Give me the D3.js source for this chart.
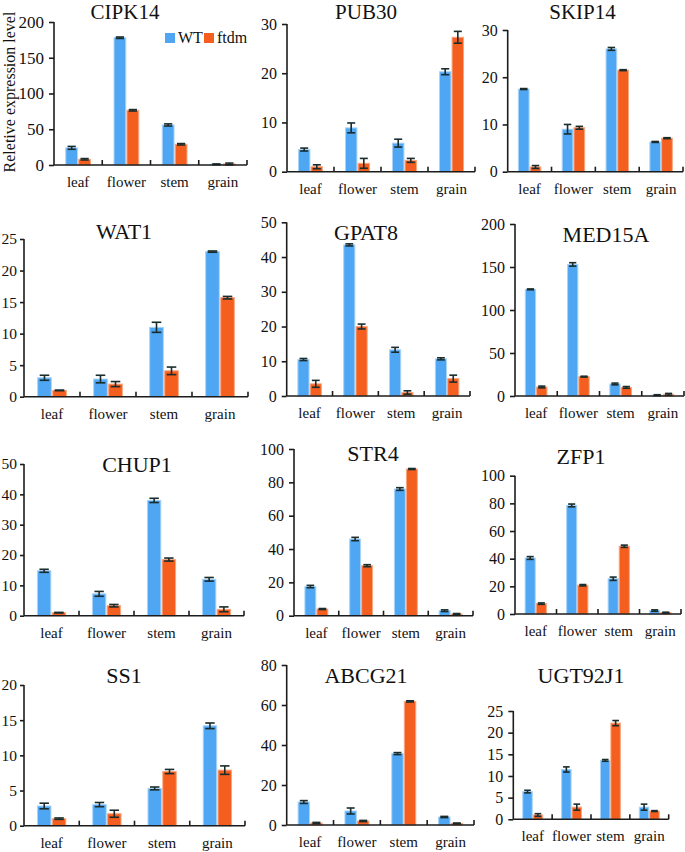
<!DOCTYPE html>
<html>
<head>
<meta charset="utf-8">
<script src="https://cdn.jsdelivr.net/npm/d3@7"></script>
<style>
  body { margin: 0; background: #fff; }
</style>
</head>
<body>
<script>
// tissues on the x axis, one gene per panel
var tissues = ["leaf", "flower", "stem", "grain"];
var genes = ["CIPK14", "PUB30", "SKIP14", "WAT1", "GPAT8", "MED15A",
    "CHUP1", "STR4", "ZFP1", "SS1", "ABCG21", "UGT92J1"];
var seriesNames = ["WT", "ftdm"];

var yMax = [200, 30, 30, 25, 50, 200, 50, 100, 100, 20, 80, 25];
var yStep = [50, 10, 10, 5, 10, 50, 10, 20, 20, 5, 20, 5];

var wtMean = [
    [24, 178, 56, 1],
    [4.5, 8.9, 5.8, 20.3],
    [17.5, 9, 26, 6.3],
    [3, 2.8, 11, 23],
    [10.5, 43.5, 13.3, 10.7],
    [124, 153, 14, 1],
    [14.8, 7.2, 38, 12],
    [17.5, 46, 76, 3],
    [40.5, 78.5, 25.5, 2.5],
    [2.8, 3, 5.3, 14.2],
    [11.5, 7, 35.7, 4],
    [6.4, 11.5, 13.6, 2.8]
];
var wtErr = [
    [2, 1, 1.5, 0.5],
    [0.3, 1, 0.8, 0.6],
    [0.1, 1, 0.3, 0.1],
    [0.4, 0.6, 0.8, 0.1],
    [0.3, 0.3, 0.7, 0.3],
    [0.5, 2, 1, 0.5],
    [0.5, 0.8, 0.7, 0.6],
    [0.7, 1, 0.8, 0.5],
    [1, 1, 1.2, 0.5],
    [0.4, 0.3, 0.2, 0.4],
    [0.7, 1.5, 0.5, 0.3],
    [0.3, 0.6, 0.2, 0.7]
];
var ftdmMean = [
    [8, 76.5, 29, 1.5],
    [1, 1.7, 2.3, 27.3],
    [1, 9.3, 21.5, 7.1],
    [1, 2, 4.1, 15.7],
    [3.5, 20, 1, 5],
    [10.5, 22.5, 10, 2],
    [1, 3.3, 18.5, 2.1],
    [4, 30, 88, 1],
    [7.5, 20.8, 49, 1],
    [1, 1.7, 7.7, 7.9],
    [1, 2, 61.8, 0.8],
    [1, 2.8, 22.2, 1.9]
];
var ftdmErr = [
    [1, 1, 1, 1.2],
    [0.4, 1, 0.4, 1.2],
    [0.3, 0.3, 0.1, 0.1],
    [0.05, 0.4, 0.6, 0.2],
    [1, 0.7, 0.5, 1],
    [1, 0.5, 1, 1],
    [0.1, 0.4, 0.5, 0.8],
    [0.3, 0.6, 0.3, 0.3],
    [0.5, 0.5, 0.8, 0.3],
    [0.1, 0.5, 0.3, 0.6],
    [0.3, 0.3, 0.3, 0.2],
    [0.3, 0.7, 0.6, 0.1]
];

// where each panel sits: axis left/right, top of y range, zero line, title x/y
var frames = [
    {x0: 54, x1: 247, top: 22, y0: 165, tx: 125, ty: 19},
    {x0: 287, x1: 475, top: 24, y0: 171.7, tx: 366, ty: 19},
    {x0: 507.7, x1: 683, top: 30, y0: 171.7, tx: 582.5, ty: 19},
    {x0: 24, x1: 248, top: 239, y0: 396.7, tx: 124, ty: 239},
    {x0: 286.7, x1: 470, top: 222.3, y0: 396, tx: 366, ty: 240},
    {x0: 515, x1: 684, top: 224, y0: 396, tx: 606, ty: 241.5},
    {x0: 24, x1: 244, top: 464, y0: 615.7, tx: 137, ty: 472},
    {x0: 294, x1: 473, top: 449, y0: 615.7, tx: 373, ty: 461},
    {x0: 515, x1: 681, top: 475.7, y0: 614, tx: 581, ty: 464},
    {x0: 24, x1: 245, top: 685, y0: 825.7, tx: 124, ty: 683},
    {x0: 286.7, x1: 474, top: 665, y0: 825, tx: 366, ty: 683},
    {x0: 513.3, x1: 668.7, top: 711, y0: 819.3, tx: 581, ty: 683}
];

var font = "'Liberation Serif', 'Times New Roman', serif";
var colors = {WT: "#4fa7f4", ftdm: "#f45e1f"};
var edges = {WT: "#a9d4fa", ftdm: "#f9a67f"};
var axisColor = "#1c1c1c";
var errColor = "#1a2c2c";

var svg = d3.select("body").append("svg")
    .attr("width", 685)
    .attr("height", 852)
    .style("font-family", font);

genes.forEach(function (gene, i) {
    var f = frames[i];
    var g = svg.append("g");
    var tight = f.x0 < 30; // left column: tick labels hug the page edge

    var x = d3.scaleBand().domain(tissues).range([f.x0, f.x1]).padding(0);
    var y = d3.scaleLinear().domain([0, yMax[i]]).range([f.y0, f.top]);
    var inner = d3.scaleBand().domain(seriesNames)
        .range([0, x.bandwidth()]).paddingInner(0.2 / 2.2).paddingOuter(1 / 1.1);

    var rows = [];
    tissues.forEach(function (t, j) {
        rows.push({t: t, s: "WT", v: wtMean[i][j], e: wtErr[i][j]});
        rows.push({t: t, s: "ftdm", v: ftdmMean[i][j], e: ftdmErr[i][j]});
    });

    g.selectAll("rect.bar")
        .data(rows)
        .enter()
        .append("rect")
        .attr("class", "bar")
        .attr("x", function (d) { return x(d.t) + inner(d.s); })
        .attr("y", function (d) { return y(d.v); })
        .attr("width", inner.bandwidth())
        .attr("height", function (d) { return f.y0 - y(d.v); })
        .attr("fill", function (d) { return colors[d.s]; })
        .attr("stroke", function (d) { return edges[d.s]; })
        .attr("stroke-width", 1);

    // error bars
    var cap = inner.bandwidth() * 0.35;
    var eb = g.selectAll("g.err")
        .data(rows)
        .enter()
        .append("g")
        .attr("class", "err")
        .attr("stroke", errColor)
        .attr("stroke-width", 1.6);
    eb.append("line")
        .attr("x1", function (d) { return x(d.t) + inner(d.s) + inner.bandwidth() / 2; })
        .attr("x2", function (d) { return x(d.t) + inner(d.s) + inner.bandwidth() / 2; })
        .attr("y1", function (d) { return y(Math.max(0, d.v - d.e)); })
        .attr("y2", function (d) { return y(d.v + d.e); });
    [-1, 1].forEach(function (k) {
        eb.append("line")
            .attr("x1", function (d) { return x(d.t) + inner(d.s) + inner.bandwidth() / 2 - cap; })
            .attr("x2", function (d) { return x(d.t) + inner(d.s) + inner.bandwidth() / 2 + cap; })
            .attr("y1", function (d) { return y(k > 0 ? d.v + d.e : Math.max(0, d.v - d.e)); })
            .attr("y2", function (d) { return y(k > 0 ? d.v + d.e : Math.max(0, d.v - d.e)); });
    });

    // y axis
    var yAxis = d3.axisLeft(y)
        .tickValues(d3.range(0, yMax[i] + yStep[i] / 2, yStep[i]))
        .tickSize(tight ? 4 : 5)
        .tickPadding(tight ? 3 : 5)
        .tickFormat(d3.format("d"));
    var ya = g.append("g")
        .attr("transform", "translate(" + f.x0 + ",0)")
        .call(yAxis);
    ya.select(".domain").attr("stroke", axisColor).attr("stroke-width", 1.6)
        .attr("d", "M0," + f.y0 + "V" + f.top);
    ya.selectAll(".tick line").attr("stroke", axisColor).attr("stroke-width", 1.6);
    ya.selectAll(".tick text")
        .style("font-family", font)
        .style("font-size", i === 0 ? "17px" : (tight ? "15.5px" : "16px"))
        .attr("fill", "#111");

    // x axis: baseline, upward ticks between tissues, labels centred
    g.append("line")
        .attr("x1", f.x0).attr("x2", f.x1)
        .attr("y1", f.y0).attr("y2", f.y0)
        .attr("stroke", axisColor).attr("stroke-width", 1.6);
    g.selectAll("line.xtick")
        .data(tissues.slice(1).concat(["end"]))
        .enter()
        .append("line")
        .attr("class", "xtick")
        .attr("x1", function (d) { return d === "end" ? f.x1 : x(d); })
        .attr("x2", function (d) { return d === "end" ? f.x1 : x(d); })
        .attr("y1", f.y0)
        .attr("y2", f.y0 - 5)
        .attr("stroke", axisColor).attr("stroke-width", 1.6);
    g.selectAll("text.xlab")
        .data(tissues)
        .enter()
        .append("text")
        .attr("class", "xlab")
        .attr("x", function (d) { return x(d) + x.bandwidth() / 2; })
        .attr("y", f.y0 + 22)
        .attr("text-anchor", "middle")
        .style("font-size", "15px")
        .attr("fill", "#111")
        .text(function (d) { return d; });

    g.append("text")
        .attr("x", f.tx)
        .attr("y", f.ty)
        .attr("text-anchor", "middle")
        .style("font-size", i < 3 ? "21px" : "22px")
        .attr("fill", "#111")
        .text(gene);
});

// y label (first panel only)
svg.append("text")
    .attr("transform", "translate(15,92) rotate(-90)")
    .attr("text-anchor", "middle")
    .style("font-size", "16px")
    .attr("fill", "#111")
    .text("Reletive expression level");

// legend
var legend = svg.append("g").attr("transform", "translate(165,33)");
var lx = [0, 39];
seriesNames.forEach(function (s, k) {
    legend.append("rect")
        .attr("x", lx[k]).attr("y", 0)
        .attr("width", 10).attr("height", 10)
        .attr("fill", colors[s]);
    legend.append("text")
        .attr("x", lx[k] + 13).attr("y", 10)
        .style("font-size", "16px")
        .attr("fill", "#111")
        .text(s);
});
</script>
</body>
</html>
